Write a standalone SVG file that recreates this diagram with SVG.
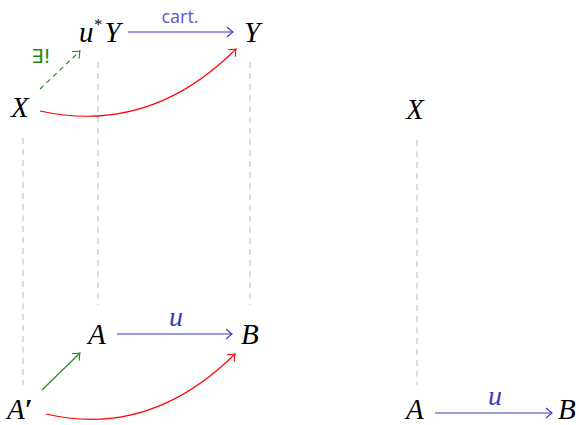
<svg xmlns="http://www.w3.org/2000/svg" width="579" height="425" viewBox="0 0 579 425">
<style>
.m{font-family:"Liberation Serif","Times New Roman",serif;font-style:italic;font-size:29px;fill:#000}
.lab{font-family:"Liberation Serif",serif;font-style:italic;font-size:28px;fill:#3a3ac0}
.guide{stroke:#c8c8c8;stroke-width:1.2;stroke-dasharray:6 5;fill:none}
.blue{stroke:#3a3ac0;stroke-width:1.1;fill:none}
.red{stroke:#ff0000;stroke-width:1.1;fill:none}
.green{stroke:#1a8a1a;stroke-width:1.1;fill:none}
</style>
<defs>
<marker id="ab" markerUnits="userSpaceOnUse" orient="auto" markerWidth="12" markerHeight="12" refX="0" refY="0" viewBox="-7 -6 9 12" overflow="visible"><path d="M-6,-5 Q-1.5,-1 0,0 Q-1.5,1 -6,5" fill="none" stroke="#3a3ac0" stroke-width="1.1"/></marker>
<marker id="ar" markerUnits="userSpaceOnUse" orient="auto" markerWidth="12" markerHeight="12" refX="0" refY="0" viewBox="-7 -6 9 12" overflow="visible"><path d="M-6,-5 Q-1.5,-1 0,0 Q-1.5,1 -6,5" fill="none" stroke="#ff0000" stroke-width="1.1"/></marker>
<marker id="ag" markerUnits="userSpaceOnUse" orient="auto" markerWidth="12" markerHeight="12" refX="0" refY="0" viewBox="-7 -6 9 12" overflow="visible"><path d="M-6,-5 Q-1.5,-1 0,0 Q-1.5,1 -6,5" fill="none" stroke="#1a8a1a" stroke-width="1.1"/></marker>
</defs>
<g id="guides">
<line class="guide" x1="98" y1="62" x2="98" y2="305"/>
<line class="guide" x1="250" y1="62" x2="250" y2="305"/>
<line class="guide" x1="23" y1="138" x2="23" y2="385"/>
<line class="guide" x1="417" y1="140" x2="417" y2="385"/>
</g>
<g id="connectors">
<line class="blue" x1="128" y1="32" x2="233" y2="32" marker-end="url(#ab)"/>
<text x="180" y="23" font-family="Open Sans,Liberation Sans,sans-serif" font-size="18" fill="#5a5ad0" text-anchor="middle">cart.</text>
<path class="red" d="M40,111 Q150,135 236,49" marker-end="url(#ar)"/>
<line class="green" x1="40" y1="89" x2="80" y2="51" stroke-dasharray="5 4" marker-end="url(#ag)"/>
<text x="41" y="63" font-family="DejaVu Sans,sans-serif" font-size="19" fill="#1a8a1a" text-anchor="middle">∃!</text>
<line class="blue" x1="117" y1="334" x2="232" y2="334" marker-end="url(#ab)"/>
<text class="lab" x="176" y="326" text-anchor="middle">u</text>
<line class="green" x1="42" y1="390" x2="80" y2="353" marker-end="url(#ag)"/>
<path class="red" d="M46,414 Q150,438 235,354" marker-end="url(#ar)"/>
<line class="blue" x1="435" y1="413" x2="552" y2="413" marker-end="url(#ab)"/>
<text class="lab" x="495" y="405" text-anchor="middle">u</text>
</g>
<g id="uY"><text class="m" x="79" y="42">u<tspan font-size="16" dy="-12">*</tspan><tspan dy="12" dx="3">Y</tspan></text></g>
<g id="Y"><text class="m" x="244" y="42">Y</text></g>
<g id="X"><text class="m" x="11" y="117">X</text></g>
<g id="A"><text class="m" x="88" y="344">A</text></g>
<g id="B"><text class="m" x="241" y="344">B</text></g>
<g id="Ap"><text class="m" x="7" y="419">A<tspan font-style="normal" font-weight="bold">′</tspan></text></g>
<g id="X2"><text class="m" x="406" y="119">X</text></g>
<g id="A2"><text class="m" x="406" y="419">A</text></g>
<g id="B2"><text class="m" x="558" y="419">B</text></g>
</svg>
